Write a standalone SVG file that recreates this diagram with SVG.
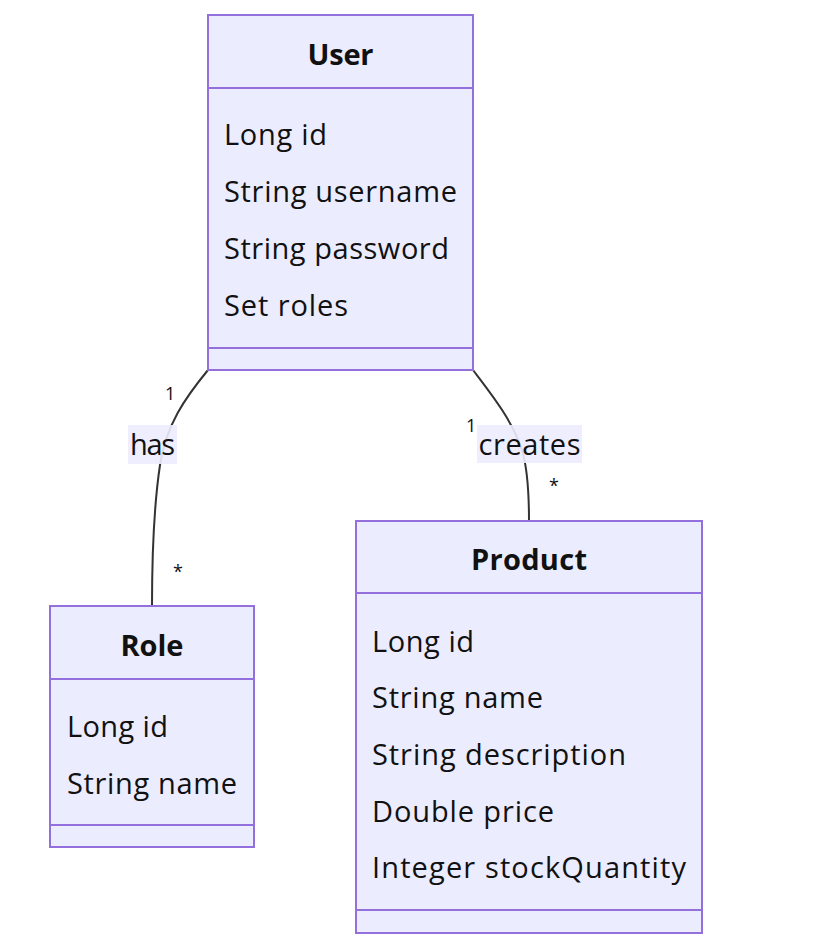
<svg xmlns="http://www.w3.org/2000/svg" width="821" height="948" viewBox="0 0 821 948">
<style>
.box{fill:#ECECFF;stroke:#9370DB;stroke-width:2}
.div{stroke:#9370DB;stroke-width:2}
.t{font-family:"Open Sans","Liberation Sans",sans-serif;font-size:29px;fill:#111}
.h{font-family:"Open Sans","Liberation Sans",sans-serif;font-size:29px;font-weight:bold;fill:#111;text-anchor:middle}
.edge{fill:none;stroke:#333;stroke-width:2}
.lblbg{fill:#ECECFF;opacity:0.9}
.lbl{font-family:"Open Sans","Liberation Sans",sans-serif;font-size:29px;fill:#111;text-anchor:middle}
.card{font-family:"Open Sans","Liberation Sans",sans-serif;font-size:18px;fill:#111}
</style>
<rect width="821" height="948" fill="#fff"/>
<g id="connectors">
<path class="edge" d="M208,370 C185,398 166,425 160,465 C154,505 152,560 152,606"/>
<path class="edge" d="M473,370 C492,395 512,420 522,450 C528,470 529,495 529,521"/>
<rect class="lblbg" x="128" y="425" width="49" height="39"/>
<text class="lbl" x="152.5" y="455" textLength="45">has</text>
<rect class="lblbg" x="477" y="425" width="105" height="38"/>
<text class="lbl" x="529.5" y="455" textLength="102">creates</text>
<text class="card" x="165" y="400">1</text>
<text class="card" x="466" y="432">1</text>
<text class="card" x="173" y="578">*</text>
<text class="card" x="549" y="492">*</text>
</g>
<g id="User">
<rect class="box" x="208" y="15" width="265" height="355"/>
<line class="div" x1="208" y1="88" x2="473" y2="88"/>
<line class="div" x1="208" y1="348" x2="473" y2="348"/>
<text class="h" x="340.5" y="65" textLength="66">User</text>
<text class="t" x="224" y="145" textLength="103">Long id</text>
<text class="t" x="224" y="202" textLength="233">String username</text>
<text class="t" x="224" y="259" textLength="225">String password</text>
<text class="t" x="224" y="316" textLength="124">Set roles</text>
</g>
<g id="Role">
<rect class="box" x="50" y="606" width="204" height="241"/>
<line class="div" x1="50" y1="679" x2="254" y2="679"/>
<line class="div" x1="50" y1="825" x2="254" y2="825"/>
<text class="h" x="152" y="656" textLength="63">Role</text>
<text class="t" x="67" y="737" textLength="101">Long id</text>
<text class="t" x="67" y="794" textLength="170">String name</text>
</g>
<g id="Product">
<rect class="box" x="356" y="521" width="346" height="412"/>
<line class="div" x1="356" y1="593" x2="702" y2="593"/>
<line class="div" x1="356" y1="910" x2="702" y2="910"/>
<text class="h" x="529" y="570" textLength="116">Product</text>
<text class="t" x="372" y="652" textLength="102">Long id</text>
<text class="t" x="372" y="708" textLength="171">String name</text>
<text class="t" x="372" y="765" textLength="254">String description</text>
<text class="t" x="372" y="822" textLength="182">Double price</text>
<text class="t" x="372" y="878" textLength="314">Integer stockQuantity</text>
</g>
</svg>
